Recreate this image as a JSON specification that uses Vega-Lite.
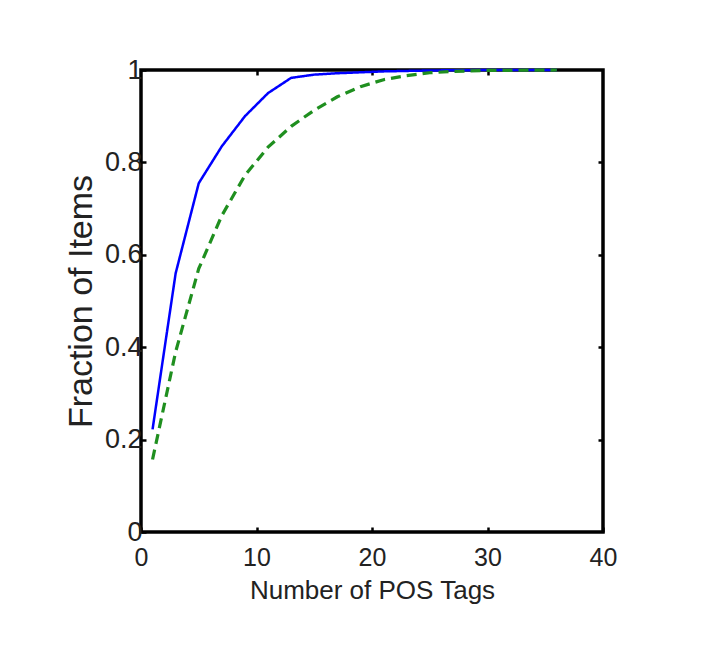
{
  "$schema": "https://vega.github.io/schema/vega-lite/v6.json",
  "width": 462,
  "height": 462,
  "autosize": {"type": "none"},
  "padding": {"left": 141, "top": 70, "right": 108, "bottom": 139},
  "background": "white",
  "config": {
    "view": {"stroke": "black", "strokeWidth": 3.5},
    "axis": {
      "labelFont": "Liberation Sans",
      "titleFont": "Liberation Sans",
      "labelColor": "#222222",
      "titleColor": "#222222",
      "titleFontWeight": "normal",
      "domain": false,
      "grid": false,
      "tickColor": "black",
      "tickWidth": 2.5,
      "tickSize": -5
    }
  },
  "data": {
    "values": [
      {"tags": 1, "frac": 0.222, "series": "A"},
      {"tags": 3, "frac": 0.56, "series": "A"},
      {"tags": 5, "frac": 0.755, "series": "A"},
      {"tags": 7, "frac": 0.835, "series": "A"},
      {"tags": 9, "frac": 0.9, "series": "A"},
      {"tags": 11, "frac": 0.95, "series": "A"},
      {"tags": 13, "frac": 0.983, "series": "A"},
      {"tags": 15, "frac": 0.99, "series": "A"},
      {"tags": 17, "frac": 0.993, "series": "A"},
      {"tags": 19, "frac": 0.995, "series": "A"},
      {"tags": 21, "frac": 0.997, "series": "A"},
      {"tags": 23, "frac": 0.998, "series": "A"},
      {"tags": 25, "frac": 0.999, "series": "A"},
      {"tags": 30, "frac": 1.0, "series": "A"},
      {"tags": 36, "frac": 1.0, "series": "A"},
      {"tags": 1, "frac": 0.157, "series": "B"},
      {"tags": 3, "frac": 0.39, "series": "B"},
      {"tags": 5, "frac": 0.57, "series": "B"},
      {"tags": 7, "frac": 0.685, "series": "B"},
      {"tags": 9, "frac": 0.772, "series": "B"},
      {"tags": 11, "frac": 0.833, "series": "B"},
      {"tags": 13, "frac": 0.878, "series": "B"},
      {"tags": 15, "frac": 0.913, "series": "B"},
      {"tags": 17, "frac": 0.942, "series": "B"},
      {"tags": 19, "frac": 0.964, "series": "B"},
      {"tags": 21, "frac": 0.979, "series": "B"},
      {"tags": 23, "frac": 0.988, "series": "B"},
      {"tags": 25, "frac": 0.994, "series": "B"},
      {"tags": 27, "frac": 0.997, "series": "B"},
      {"tags": 30, "frac": 0.999, "series": "B"},
      {"tags": 36, "frac": 1.0, "series": "B"}
    ]
  },
  "layer": [
    {
      "mark": {"type": "line", "clip": false},
      "encoding": {
        "x": {
          "field": "tags", "type": "quantitative",
          "scale": {"domain": [0, 40], "nice": false, "zero": false},
          "axis": {
            "orient": "bottom", "values": [0, 10, 20, 30, 40],
            "title": "Number of POS Tags",
            "labelFontSize": 25, "titleFontSize": 26,
            "labelPadding": 18, "titlePadding": 7,
            "labelFlush": false
          }
        },
        "y": {
          "field": "frac", "type": "quantitative",
          "scale": {"domain": [0, 1], "nice": false, "zero": false},
          "axis": {
            "orient": "left", "values": [0, 0.2, 0.4, 0.6, 0.8, 1],
            "format": "~g",
            "title": "Fraction of Items",
            "labelFontSize": 27, "titleFontSize": 34,
            "labelPadding": 4, "titlePadding": 6,
            "labelFlush": false
          }
        },
        "color": {
          "field": "series", "type": "nominal",
          "scale": {"domain": ["A", "B"], "range": ["#0000ff", "#1f8f1f"]},
          "legend": null
        },
        "strokeDash": {
          "field": "series", "type": "nominal",
          "scale": {"domain": ["A", "B"], "range": [[1, 0], [10, 6]]},
          "legend": null
        },
        "strokeWidth": {
          "field": "series", "type": "nominal",
          "scale": {"domain": ["A", "B"], "range": [2.5, 3.2]},
          "legend": null
        }
      }
    },
    {
      "mark": {"type": "point", "opacity": 0},
      "encoding": {
        "x": {
          "field": "tags", "type": "quantitative",
          "scale": {"domain": [0, 40], "nice": false, "zero": false},
          "axis": {"orient": "top", "values": [10, 20, 30], "labels": false, "title": null}
        },
        "y": {
          "field": "frac", "type": "quantitative",
          "scale": {"domain": [0, 1], "nice": false, "zero": false},
          "axis": {"orient": "right", "values": [0.2, 0.4, 0.6, 0.8], "labels": false, "title": null}
        }
      }
    }
  ],
  "resolve": {
    "scale": {"x": "independent", "y": "independent"},
    "axis": {"x": "independent", "y": "independent"}
  }
}
